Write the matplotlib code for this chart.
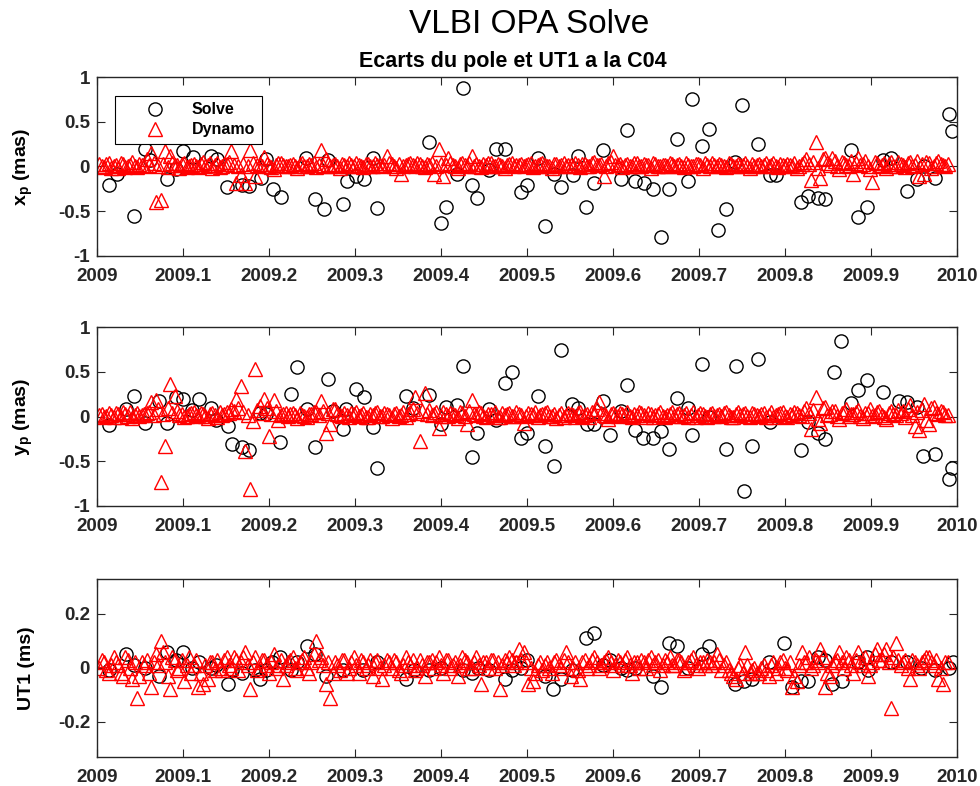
import matplotlib
matplotlib.use('Agg')
import matplotlib.pyplot as plt
import numpy as np

params = {
    'font.family': 'Liberation Sans',
    'font.weight': 'bold',
    'mathtext.fontset': 'custom',
    'mathtext.bf': 'Liberation Sans:bold',
    'mathtext.rm': 'Liberation Sans:bold',
    'mathtext.default': 'bf',
    'axes.unicode_minus': False,
    'axes.linewidth': 1.0,
    'axes.edgecolor': '#262626',
    'xtick.color': '#262626',
    'ytick.color': '#262626',
    'xtick.direction': 'in',
    'ytick.direction': 'in',
    'xtick.top': True,
    'ytick.right': True,
    'xtick.major.size': 5.5,
    'ytick.major.size': 5.5,
    'xtick.labelsize': 13.5,
    'ytick.labelsize': 13.5,
}
plt.rcParams.update(params)

# --- Solve sessions (epoch in years, offset to C04) ---
solve_t_xp = [2009.014, 2009.023, 2009.043, 2009.056, 2009.062, 2009.081, 2009.092, 2009.100, 2009.112, 2009.132,
              2009.139, 2009.151, 2009.169, 2009.177, 2009.191, 2009.196, 2009.205, 2009.214, 2009.243, 2009.253,
              2009.264, 2009.268, 2009.286, 2009.291, 2009.301, 2009.310, 2009.321, 2009.326, 2009.386, 2009.400,
              2009.406, 2009.418, 2009.425, 2009.436, 2009.442, 2009.456, 2009.464, 2009.474, 2009.493, 2009.500,
              2009.513, 2009.521, 2009.531, 2009.540, 2009.553, 2009.559, 2009.569, 2009.578, 2009.588, 2009.609,
              2009.616, 2009.626, 2009.636, 2009.646, 2009.656, 2009.665, 2009.674, 2009.687, 2009.692, 2009.703,
              2009.712, 2009.722, 2009.731, 2009.742, 2009.750, 2009.769, 2009.783, 2009.789, 2009.818, 2009.827,
              2009.838, 2009.847, 2009.877, 2009.885, 2009.895, 2009.914, 2009.923, 2009.942, 2009.953, 2009.962,
              2009.974, 2009.991, 2009.994]
solve_xp = [-0.21, -0.08, -0.56, 0.20, 0.07, -0.14, -0.03, 0.17, 0.11, 0.12,
            0.08, -0.23, -0.21, -0.22, -0.13, 0.08, -0.25, -0.34, 0.10, -0.37,
            -0.48, 0.07, -0.42, -0.16, -0.11, -0.14, 0.09, -0.46, 0.27, -0.63,
            -0.45, -0.08, 0.88, -0.21, -0.35, -0.04, 0.20, 0.20, -0.29, -0.21,
            0.09, -0.67, -0.08, -0.23, -0.10, 0.12, -0.45, -0.18, 0.19, -0.14,
            0.41, -0.16, -0.19, -0.25, -0.79, -0.25, 0.31, -0.16, 0.76, 0.23,
            0.42, -0.71, -0.48, 0.05, 0.69, 0.25, -0.10, -0.10, -0.40, -0.33,
            -0.35, -0.36, 0.18, -0.57, -0.45, 0.07, 0.09, -0.27, -0.14, 0.00,
            -0.13, 0.59, 0.40]

solve_t_yp = [2009.014, 2009.034, 2009.043, 2009.056, 2009.072, 2009.081, 2009.092, 2009.100, 2009.110, 2009.118,
              2009.132, 2009.138, 2009.152, 2009.157, 2009.169, 2009.177, 2009.189, 2009.196, 2009.213, 2009.226,
              2009.233, 2009.244, 2009.253, 2009.268, 2009.274, 2009.286, 2009.290, 2009.301, 2009.310, 2009.321,
              2009.326, 2009.359, 2009.367, 2009.386, 2009.400, 2009.406, 2009.419, 2009.425, 2009.436, 2009.442,
              2009.456, 2009.464, 2009.474, 2009.482, 2009.493, 2009.500, 2009.513, 2009.521, 2009.531, 2009.539,
              2009.552, 2009.559, 2009.570, 2009.578, 2009.588, 2009.596, 2009.609, 2009.616, 2009.626, 2009.635,
              2009.646, 2009.656, 2009.665, 2009.674, 2009.687, 2009.692, 2009.703, 2009.711, 2009.731, 2009.743,
              2009.752, 2009.761, 2009.769, 2009.783, 2009.818, 2009.827, 2009.838, 2009.847, 2009.857, 2009.865,
              2009.877, 2009.885, 2009.895, 2009.914, 2009.933, 2009.942, 2009.953, 2009.960, 2009.974, 2009.991,
              2009.994]
solve_yp = [-0.09, 0.08, 0.23, -0.07, 0.17, -0.07, 0.22, 0.20, 0.07, 0.20,
            0.09, -0.04, -0.11, -0.31, -0.34, -0.37, 0.04, 0.03, -0.29, 0.25,
            0.56, 0.08, -0.34, 0.42, 0.06, -0.14, 0.08, 0.31, 0.22, -0.12,
            -0.58, 0.23, 0.09, 0.24, -0.08, 0.11, 0.13, 0.57, -0.45, -0.19,
            0.08, -0.04, 0.38, 0.50, -0.24, -0.19, 0.23, -0.33, -0.56, 0.75,
            0.14, 0.09, -0.08, -0.08, 0.17, -0.21, 0.06, 0.35, -0.15, -0.24,
            -0.24, -0.16, -0.36, 0.21, 0.09, -0.21, 0.59, 0.00, -0.36, 0.57,
            -0.83, -0.33, 0.65, -0.06, -0.37, -0.06, -0.19, -0.25, 0.50, 0.85,
            0.15, 0.30, 0.41, 0.28, 0.17, 0.16, 0.11, -0.44, -0.42, -0.70,
            -0.58]

solve_t_ut1 = [2009.014, 2009.034, 2009.043, 2009.056, 2009.072, 2009.081, 2009.092, 2009.100, 2009.110, 2009.118,
               2009.132, 2009.138, 2009.152, 2009.157, 2009.169, 2009.184, 2009.190, 2009.196, 2009.204, 2009.213,
               2009.226, 2009.233, 2009.244, 2009.253, 2009.266, 2009.286, 2009.309, 2009.325, 2009.359, 2009.369,
               2009.386, 2009.400, 2009.425, 2009.436, 2009.443, 2009.456, 2009.474, 2009.483, 2009.493, 2009.500,
               2009.521, 2009.530, 2009.539, 2009.552, 2009.569, 2009.578, 2009.588, 2009.596, 2009.609, 2009.616,
               2009.626, 2009.646, 2009.656, 2009.665, 2009.674, 2009.687, 2009.703, 2009.712, 2009.742, 2009.752,
               2009.761, 2009.781, 2009.799, 2009.808, 2009.818, 2009.827, 2009.838, 2009.846, 2009.855, 2009.866,
               2009.885, 2009.895, 2009.896, 2009.923, 2009.942, 2009.958, 2009.974, 2009.991, 2009.995]
solve_ut1 = [-0.01, 0.05, 0.01, 0.00, -0.03, 0.06, 0.03, 0.06, 0.00, 0.02,
             0.00, 0.01, -0.06, -0.01, -0.02, -0.01, -0.04, -0.01, 0.02, 0.04,
             -0.01, 0.02, 0.08, 0.05, -0.03, -0.01, -0.01, 0.02, -0.04, -0.01,
             -0.01, 0.00, -0.01, -0.02, 0.00, -0.01, -0.04, -0.01, 0.00, 0.03,
             -0.03, -0.08, -0.04, -0.01, 0.11, 0.13, 0.01, 0.03, 0.00, -0.01,
             0.00, -0.03, -0.07, 0.09, 0.08, 0.00, 0.05, 0.08, -0.06, -0.05,
             -0.04, 0.02, 0.09, -0.07, -0.05, -0.05, 0.04, 0.03, -0.06, -0.05,
             0.02, 0.04, -0.01, 0.02, 0.02, 0.00, -0.01, 0.00, 0.02]

# --- Dynamo daily solutions, days 1..361 of 2009 ---
dyn_day = list(range(1, 362))
dyn_xp = [0.03, 0.01, -0.01, 0.03, 0.04, -0.02, 0.01, 0.02, -0.02, 0.04, 0.03, -0.01, 0.00, 0.02, 0.05, 0.01, -0.01, 0.03, 0.02, 0.00,
          0.08, 0.02, 0.15, 0.04, -0.40, 0.01, -0.38, 0.03, 0.17, -0.01, 0.12, 0.04, 0.02, 0.02, -0.02, 0.03, 0.04, -0.01, 0.01, 0.02,
          0.03, 0.01, -0.01, 0.03, 0.05, 0.00, 0.02, 0.04, -0.02, 0.02, 0.04, -0.01, 0.00, 0.03, 0.03, 0.05, 0.17, 0.02, -0.19, 0.01,
          -0.10, 0.03, -0.19, 0.00, 0.18, 0.04, -0.11, 0.02, 0.03, 0.01, 0.11, 0.03, 0.01, -0.01, -0.03, 0.02, 0.04, 0.04, 0.02, 0.01,
          0.00, 0.02, 0.03, 0.01, -0.02, 0.03, 0.04, 0.00, 0.01, 0.03, 0.02, 0.04, -0.01, 0.02, 0.18, 0.01, 0.08, 0.03, 0.01, 0.02,
          0.03, 0.01, -0.02, 0.03, 0.02, 0.00, 0.04, 0.02, 0.00, 0.04, 0.02, 0.01, -0.01, 0.03, 0.03, 0.00, 0.01, 0.04, 0.02, 0.02,
          0.00, 0.02, 0.12, 0.04, 0.03, 0.01, -0.02, 0.03, -0.08, 0.00, 0.02, 0.03, 0.04, 0.02, 0.00, 0.04, 0.03, 0.01, -0.01, 0.03,
          0.02, 0.04, -0.08, 0.01, 0.20, 0.03, -0.11, 0.02, 0.10, 0.04, 0.02, 0.00, -0.02, 0.03, 0.04, 0.02, 0.01, 0.04, 0.12, 0.01,
          0.03, 0.01, -0.01, 0.03, 0.02, 0.04, 0.04, 0.01, 0.00, 0.03, 0.02, 0.00, -0.02, 0.02, 0.03, 0.04, 0.01, 0.02, 0.02, 0.03,
          0.00, 0.02, 0.03, 0.04, -0.01, 0.01, 0.02, 0.03, 0.04, 0.02, 0.01, 0.00, -0.02, 0.03, 0.03, 0.01, 0.02, 0.04, 0.00, 0.02,
          0.02, 0.01, 0.04, 0.02, -0.01, 0.03, 0.03, 0.00, 0.01, 0.04, 0.05, 0.02, 0.02, 0.03, -0.11, 0.01, 0.04, 0.05, 0.12, 0.02,
          0.02, 0.03, -0.01, 0.02, 0.03, 0.00, 0.01, 0.04, 0.04, 0.01, 0.00, 0.03, 0.02, 0.02, -0.02, 0.04, 0.03, 0.00, 0.01, 0.02,
          0.02, 0.01, 0.04, 0.03, 0.00, 0.02, 0.03, 0.00, -0.01, 0.04, 0.02, 0.01, 0.01, 0.03, 0.03, 0.02, -0.02, 0.04, 0.02, 0.00,
          0.04, 0.02, 0.01, 0.03, 0.02, 0.00, -0.01, 0.04, 0.03, 0.01, 0.00, 0.03, 0.02, 0.02, 0.04, 0.00, -0.02, 0.03, 0.01, 0.02,
          0.03, 0.01, 0.02, 0.04, 0.00, 0.02, 0.04, 0.01, -0.01, 0.03, 0.02, 0.00, 0.03, 0.02, 0.01, 0.04, -0.02, 0.01, 0.03, 0.05,
          0.08, 0.03, -0.15, 0.05, 0.27, -0.02, -0.13, 0.08, 0.09, 0.04, 0.02, 0.09, 0.06, 0.01, -0.03, 0.05, 0.04, 0.02, 0.01, 0.06,
          -0.08, 0.04, 0.09, 0.02, 0.03, 0.06, 0.00, -0.03, -0.17, 0.05, 0.04, 0.01, 0.02, 0.04, -0.02, 0.03, 0.05, 0.00, 0.01, 0.05,
          0.03, 0.02, -0.01, 0.04, 0.05, 0.01, 0.02, 0.06, -0.11, 0.03, -0.08, 0.05, 0.04, -0.02, 0.01, 0.04, 0.06, 0.03, 0.02, 0.01,
          0.03]
dyn_yp = [0.02, 0.03, 0.00, 0.01, 0.04, 0.02, -0.01, 0.04, 0.03, 0.00, 0.05, 0.03, 0.01, 0.05, -0.02, 0.02, 0.04, 0.01, 0.02, 0.03,
          0.04, 0.05, 0.16, 0.02, 0.19, 0.08, -0.73, 0.03, -0.33, 0.10, 0.36, 0.04, 0.23, 0.06, 0.02, 0.03, -0.01, 0.01, 0.03, 0.04,
          0.05, 0.02, 0.01, 0.04, 0.03, 0.01, -0.02, 0.03, 0.04, 0.02, 0.00, 0.05, 0.02, 0.03, 0.05, 0.04, 0.08, 0.06, 0.20, 0.10,
          0.34, 0.05, -0.39, 0.02, -0.81, -0.05, 0.53, 0.07, 0.12, 0.04, 0.20, 0.09, -0.22, 0.03, 0.19, 0.06, -0.04, 0.02, 0.03, 0.04,
          0.01, 0.03, 0.04, 0.02, -0.02, 0.04, 0.02, 0.01, 0.00, 0.03, 0.03, 0.05, 0.05, 0.02, 0.17, 0.06, -0.19, 0.04, -0.08, 0.08,
          0.08, 0.03, 0.02, 0.01, 0.04, 0.02, -0.01, 0.04, 0.03, 0.05, 0.01, 0.02, 0.04, 0.00, 0.00, 0.03, 0.02, 0.04, 0.05, 0.01,
          0.01, 0.04, 0.03, 0.02, -0.02, 0.03, 0.04, 0.01, 0.02, 0.05, 0.00, 0.03, 0.05, 0.08, 0.22, 0.04, -0.28, 0.06, 0.26, 0.03,
          0.07, 0.02, 0.03, 0.05, -0.13, 0.01, 0.05, 0.03, 0.01, 0.04, 0.03, 0.02, -0.02, 0.05, 0.04, 0.01, -0.08, 0.06, 0.18, 0.03,
          0.02, 0.05, 0.04, 0.01, 0.00, 0.03, 0.03, 0.02, 0.05, 0.00, -0.01, 0.04, 0.02, 0.03, 0.04, 0.01, 0.01, 0.05, 0.03, 0.02,
          -0.07, 0.01, 0.04, 0.03, 0.02, 0.05, 0.00, 0.02, 0.03, 0.04, 0.05, 0.01, 0.01, 0.03, -0.02, 0.02, 0.04, 0.00, 0.02, 0.04,
          0.03, 0.02, 0.00, 0.04, 0.05, 0.01, 0.02, 0.03, -0.01, 0.05, 0.04, 0.08, 0.16, 0.04, 0.02, 0.01, -0.03, 0.03, 0.04, 0.02,
          0.01, 0.04, 0.03, 0.02, 0.05, 0.01, 0.00, 0.03, 0.02, 0.05, 0.04, 0.02, -0.01, 0.04, 0.03, 0.00, 0.02, 0.03, 0.05, 0.01,
          0.00, 0.02, 0.03, 0.05, 0.01, 0.03, 0.04, 0.01, 0.02, 0.04, -0.01, 0.02, 0.05, 0.00, 0.02, 0.04, 0.03, 0.01, 0.00, 0.03,
          0.04, 0.01, 0.02, 0.03, 0.01, 0.04, 0.05, 0.02, -0.01, 0.00, 0.03, 0.05, 0.02, 0.03, 0.04, 0.01, 0.00, 0.04, 0.03, 0.02,
          0.01, 0.03, 0.04, 0.00, 0.02, 0.05, -0.01, 0.02, 0.03, 0.04, 0.05, 0.01, 0.00, 0.03, 0.02, 0.05, 0.04, 0.02, 0.01, 0.06,
          0.10, 0.04, -0.14, 0.07, 0.22, -0.03, -0.07, 0.09, 0.11, 0.02, 0.03, 0.06, 0.06, 0.01, -0.03, 0.04, 0.05, 0.08, 0.01, 0.03,
          0.03, 0.05, 0.07, 0.01, -0.02, 0.04, 0.04, 0.08, 0.01, 0.02, 0.05, 0.06, 0.02, 0.00, -0.03, 0.04, 0.06, 0.03, 0.02, 0.07,
          0.04, 0.06, 0.00, 0.08, 0.13, 0.02, -0.11, 0.05, -0.15, 0.07, 0.14, -0.04, -0.08, 0.09, 0.11, 0.04, 0.03, 0.06, 0.05, 0.02,
          0.02]
dyn_ut1 = [0.00, 0.03, 0.02, -0.01, -0.02, 0.01, 0.04, 0.02, 0.01, -0.02, -0.03, 0.04, 0.03, 0.00, -0.04, 0.02, -0.11, -0.03, 0.02, 0.01,
           0.03, -0.02, -0.07, 0.02, 0.05, 0.01, 0.10, 0.06, 0.02, -0.03, -0.08, 0.04, 0.03, -0.01, 0.00, 0.03, -0.05, 0.01, 0.04, -0.02,
           0.01, 0.03, -0.07, -0.02, -0.06, 0.01, -0.04, 0.02, 0.02, -0.01, 0.03, 0.00, -0.01, 0.03, 0.04, 0.01, 0.00, 0.04, 0.03, -0.01,
           0.02, 0.04, 0.06, 0.01, -0.08, 0.02, 0.04, -0.01, 0.00, 0.03, 0.03, 0.01, -0.02, 0.02, 0.05, 0.00, 0.01, 0.03, -0.04, 0.01,
           0.02, 0.03, 0.04, 0.00, -0.01, 0.02, 0.03, 0.04, 0.00, -0.02, 0.02, 0.05, 0.10, 0.03, 0.04, 0.01, -0.06, 0.02, -0.11, -0.02,
           0.02, 0.01, -0.01, 0.03, 0.03, -0.02, 0.00, 0.02, 0.04, 0.01, -0.02, 0.03, 0.02, 0.00, 0.01, 0.03, -0.03, 0.02, 0.03, 0.00,
           -0.04, 0.01, 0.03, 0.02, 0.00, 0.03, 0.02, -0.01, -0.02, 0.01, 0.04, 0.02, 0.01, 0.03, -0.01, 0.00, 0.03, 0.01, -0.03, 0.02,
           0.02, 0.03, 0.00, 0.02, 0.04, 0.01, -0.02, 0.03, 0.03, 0.00, 0.01, 0.02, -0.03, 0.01, 0.04, 0.03, 0.02, 0.00, 0.00, 0.02,
           0.04, 0.01, -0.06, 0.02, 0.02, 0.00, 0.03, 0.03, 0.00, 0.02, -0.08, 0.01, 0.03, 0.02, 0.04, 0.03, 0.01, 0.02, 0.07, 0.03,
           0.06, 0.02, -0.06, 0.00, -0.05, -0.02, 0.01, 0.02, -0.01, 0.01, 0.02, 0.00, -0.02, 0.02, 0.03, 0.01, 0.00, 0.03, 0.06, 0.02,
           -0.03, 0.00, 0.02, -0.01, -0.04, 0.02, 0.03, 0.00, 0.01, 0.03, 0.04, 0.02, 0.00, 0.01, 0.02, 0.03, 0.04, 0.02, -0.01, 0.01,
           0.03, 0.02, 0.01, 0.03, 0.04, 0.01, -0.02, 0.02, 0.02, 0.00, 0.03, 0.02, 0.00, 0.03, 0.04, 0.01, 0.02, 0.03, -0.01, 0.01,
           0.03, 0.02, 0.04, 0.01, 0.01, 0.03, 0.03, 0.02, -0.01, 0.00, 0.02, 0.03, 0.04, 0.01, 0.00, 0.02, 0.02, 0.01, 0.03, 0.02,
           0.01, 0.02, 0.05, 0.03, -0.01, 0.01, 0.02, -0.01, -0.02, -0.03, -0.04, 0.00, 0.01, -0.02, 0.06, 0.01, -0.02, -0.01, 0.00, -0.02,
           -0.02, 0.00, 0.01, -0.01, -0.03, 0.01, 0.02, -0.02, 0.00, 0.02, 0.03, 0.00, -0.01, 0.02, -0.07, -0.03, -0.05, 0.01, 0.06, 0.02,
           0.02, 0.04, 0.00, 0.01, 0.03, 0.02, 0.07, 0.04, -0.07, -0.02, -0.03, 0.01, 0.02, 0.03, 0.06, 0.02, 0.00, 0.04, 0.03, 0.01,
           -0.02, 0.03, 0.06, 0.02, 0.01, 0.04, -0.03, 0.01, 0.02, 0.05, 0.07, 0.03, 0.03, 0.05, 0.07, 0.02, -0.15, 0.04, 0.09, 0.03,
           0.01, 0.02, 0.03, 0.00, -0.04, 0.03, 0.02, 0.01, 0.00, 0.02, 0.03, 0.04, 0.04, 0.02, 0.01, 0.03, -0.04, 0.00, -0.06, 0.02,
           0.02]

xtick_vals = [2009.0, 2009.1, 2009.2, 2009.3, 2009.4, 2009.5, 2009.6, 2009.7, 2009.8, 2009.9, 2010.0]
xtick_labels = ['2009', '2009.1', '2009.2', '2009.3', '2009.4', '2009.5',
                '2009.6', '2009.7', '2009.8', '2009.9', '2010']

dyn_t = 2009 + np.array(dyn_day) / 365.0

fig = plt.figure(figsize=(9.8, 7.86), dpi=100)

left, width, height = 0.099, 0.8776, 0.227
ax1 = fig.add_axes([left, 0.6747, width, height])
ax2 = fig.add_axes([left, 0.3566, width, height])
ax3 = fig.add_axes([left, 0.0369, width, height])

panels = [
    (ax1, solve_t_xp, solve_xp, dyn_xp, 'x$_p$ (mas)', (-1, 1), [-1, -0.5, 0, 0.5, 1], ['-1', '-0.5', '0', '0.5', '1']),
    (ax2, solve_t_yp, solve_yp, dyn_yp, 'y$_p$ (mas)', (-1, 1), [-1, -0.5, 0, 0.5, 1], ['-1', '-0.5', '0', '0.5', '1']),
    (ax3, solve_t_ut1, solve_ut1, dyn_ut1, 'UT1 (ms)', (-0.33, 0.33), [-0.2, 0, 0.2], ['-0.2', '0', '0.2']),
]

for ax, ts, vs, vd, lab, yl, yt, ytl in panels:
    ax.plot(ts, vs, 'o', mfc='none', mec='k', ms=9.5, mew=1.0, label='Solve')
    ax.plot(dyn_t, vd, '^', mfc='none', mec='r', ms=10, mew=1.0, label='Dynamo')
    ax.set_xlim(2009, 2010)
    ax.set_ylim(*yl)
    ax.set_xticks(xtick_vals)
    ax.set_xticklabels(xtick_labels)
    ax.set_yticks(yt)
    ax.set_yticklabels(ytl)
    ax.set_ylabel(lab, fontsize=14, fontweight='bold')
    ax.tick_params(axis='x', pad=9)
    ax.tick_params(axis='y', pad=5)
    ax.yaxis.set_label_coords(-0.072, 0.5)

leg = ax1.legend(loc='upper left', bbox_to_anchor=(0.021, 0.895), borderaxespad=0, numpoints=1,
                 fancybox=False, framealpha=1, edgecolor='k', prop={'size': 11.5, 'weight': 'bold'},
                 borderpad=0.4, handletextpad=0.2, labelspacing=0.3, handlelength=4.2)
leg.get_frame().set_linewidth(0.8)

fig.text(0.540, 0.969, 'VLBI OPA Solve', ha='center', va='center', fontsize=24, fontweight='normal')
fig.text(0.5235, 0.9215, 'Ecarts du pole et UT1 a la C04', ha='center', va='center', fontsize=15.5, fontweight='bold')

fig.savefig('out.png', dpi=100)
